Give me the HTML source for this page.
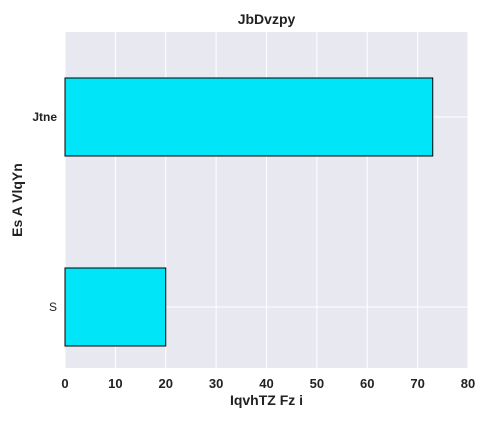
<!DOCTYPE html>
<html><head><meta charset="utf-8"><style>
body{margin:0;background:#fff;}
svg text{font-family:"Liberation Sans",sans-serif;fill:#222;}
</style></head><body>
<svg id="c" width="490" height="420"></svg>
<script>
const categories=["S","Jtne"];
const values=[20,73];
const xTicks=[0,10,20,30,40,50,60,70,80];
const NS="http://www.w3.org/2000/svg";
const svg=document.getElementById('c');
const L=65,R=468,T=32,B=368;
function x(v){return L+(v-0)/(80-0)*(R-L);}
function y(i){return 307-i*190;}
const BH=78;
function el(t,a,txt){const e=document.createElementNS(NS,t);for(const k in a)e.setAttribute(k,a[k]);if(txt!==undefined)e.textContent=txt;svg.appendChild(e);return e;}
let bg=el('rect',{x:L,y:T,width:R-L,height:B-T,fill:'#e8e8f0'});


xTicks.forEach(t=>{
  let g=el('line',{x1:x(t),x2:x(t),y1:T,y2:B,stroke:'#fff','stroke-width':1});
  
  
  let tl=el('text',{x:x(t),y:388,'text-anchor':'middle','font-size':13,'font-weight':'bold'},t);
  
  
});
categories.forEach((c,i)=>{
  let g=el('line',{x1:L,x2:R,y1:y(i),y2:y(i),stroke:'#fff','stroke-width':1});
  
  
});
categories.forEach((c,i)=>{
  let b=el('rect',{x:x(0),y:y(i)-BH/2,width:x(values[i])-x(0),height:BH,fill:'#00e5f8',stroke:'#000','stroke-width':1});
  
  
  let tl=el('text',{x:57,y:y(i)+4,'text-anchor':'end','font-size':12,'font-weight':i===1?'bold':'normal'},c);
  
  
});
let ti=el('text',{x:(L+R)/2,y:24,'text-anchor':'middle','font-size':14,'font-weight':'bold'},'JbDvzpy');


let xt=el('text',{x:(L+R)/2,y:405,'text-anchor':'middle','font-size':14,'font-weight':'bold'},'IqvhTZ Fz i');


let yt=el('text',{x:0,y:0,'text-anchor':'middle','font-size':14,'font-weight':'bold',transform:'translate(22,'+((T+B)/2)+') rotate(-90)'},'Es A VlqYn');


</script>
</body></html>
